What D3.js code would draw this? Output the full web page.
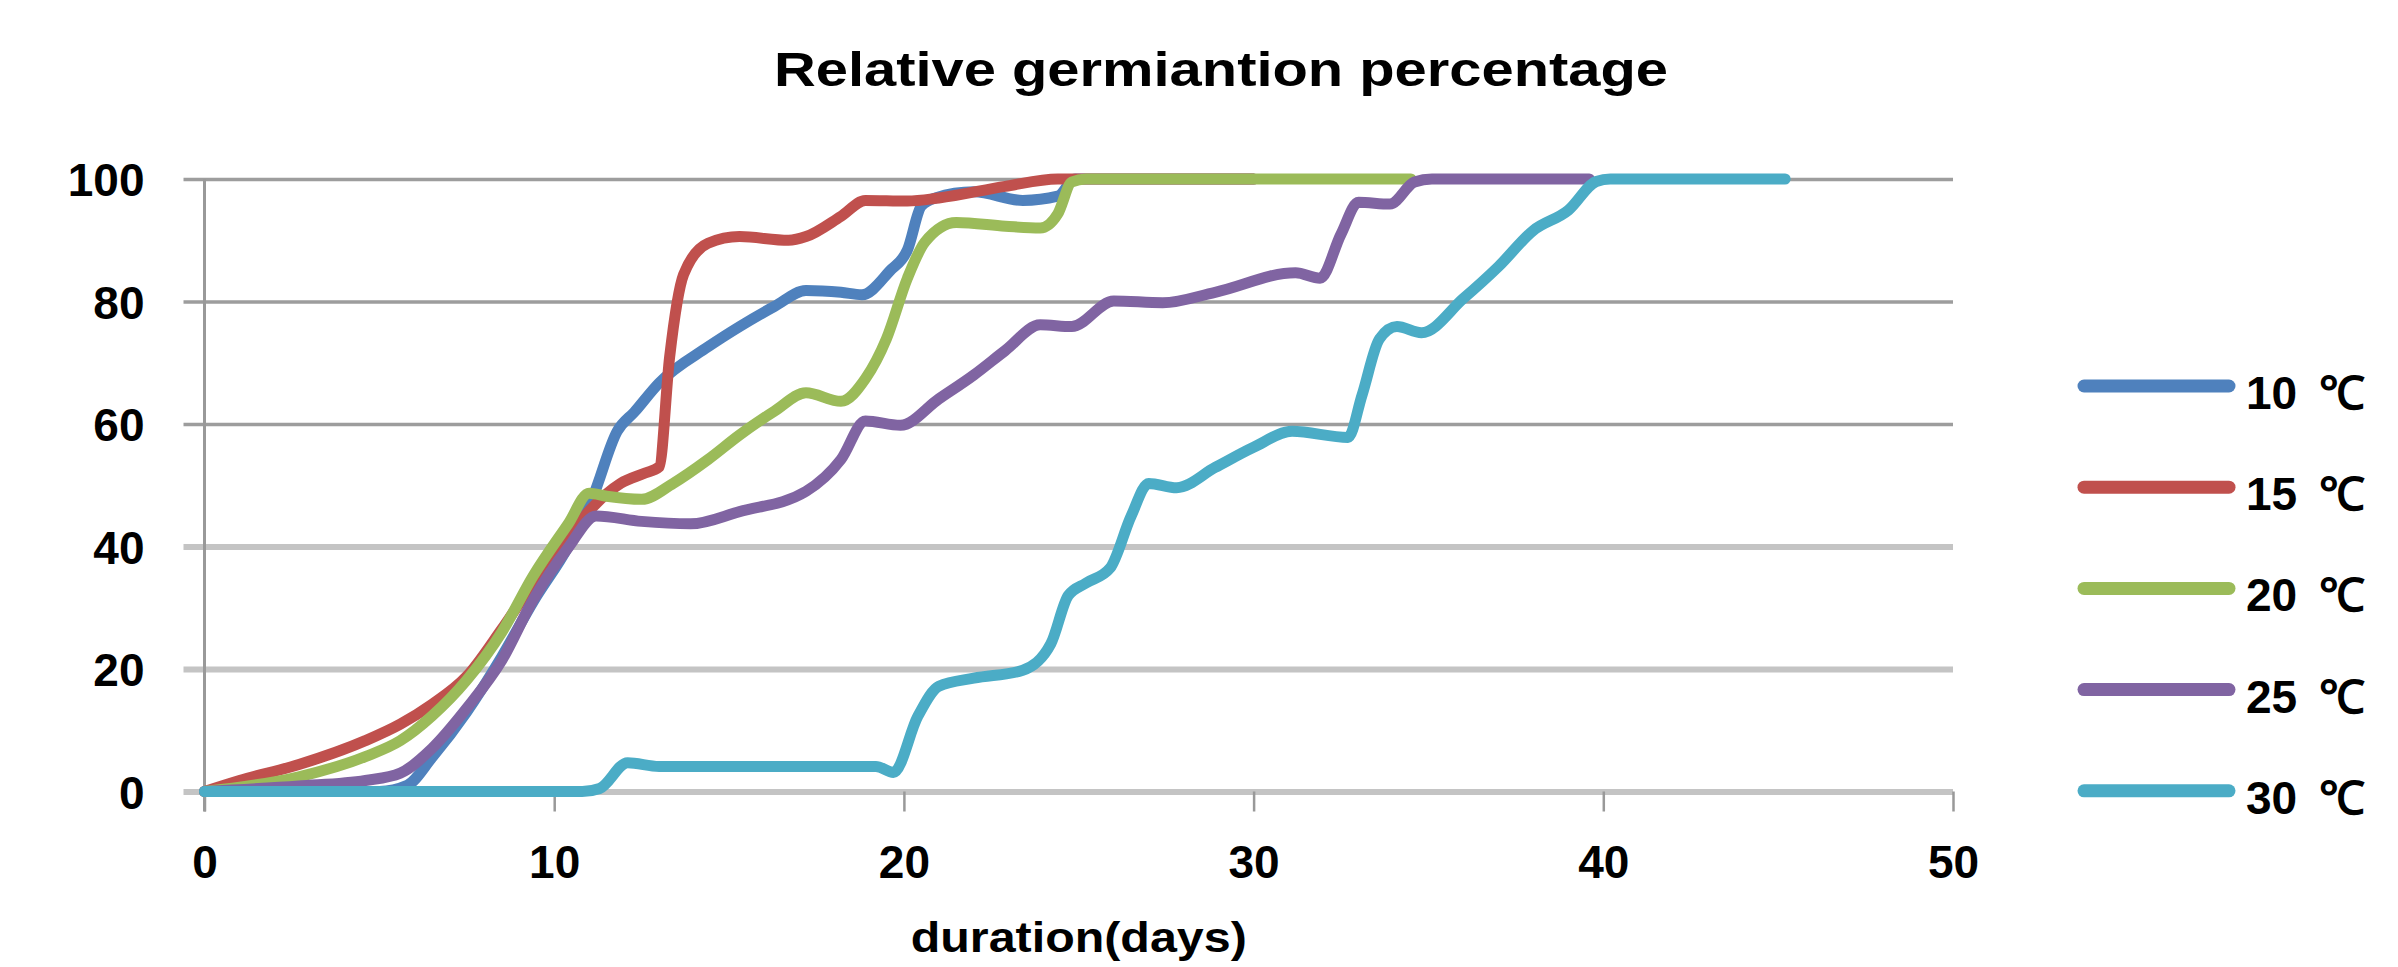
<!DOCTYPE html>
<html>
<head>
<meta charset="utf-8">
<script src="https://cdn.jsdelivr.net/npm/d3@7"></script>
<style>
    body { margin: 0; background: #fff; }
    svg { display: block; }
</style>
</head>
<body>
<div id="container"></div>
<script>
'use strict';
// chart data
var chartTitle = 'Relative germiantion percentage';
var xTitle = 'duration(days)';
var temps = ['10', '15', '20', '25', '30'];
var unit = '℃';
var xTicks = [0, 10, 20, 30, 40, 50];
var yTicks = [0, 20, 40, 60, 80, 100];

// [day, percentage]
var germ10 = [[0,0],[2,0],[5,0],[5.8,1],[6.5,5.5],[7.5,13],[8.5,22],[9.4,31],[10.4,40],[11.1,48],[11.8,58.8],
    [12.3,62],[13,66.7],[14.4,72.6],[15.3,75.9],[16.3,79.2],[17.2,81.8],[18.2,81.5],[18.8,81.1],[19.6,85],
    [20.1,88.4],[20.5,95.6],[20.9,96.9],[22,97.9],[23.4,96.5],[24.4,97.2],[24.9,100],[30,100]];
var germ15 = [[0,0],[1,1.8],[2.7,4.4],[4.6,8.3],[5.6,11],[6.5,14.2],[7.5,18.8],[8.5,26.5],[9.4,34],[10.4,41.5],
    [11,45.8],[11.9,50.3],[12.6,52],[13,53],[13.3,70.9],[13.7,84.4],[14.4,89.5],[15.3,90.6],[16.7,90],[17.2,90.6],
    [18.2,93.9],[18.9,96.5],[20.1,96.4],[21,96.9],[22.9,98.8],[24.4,100],[30,100]];
var germ20 = [[0,0],[2.7,2.4],[4.6,5.7],[5.6,8.3],[6.5,12.3],[7.5,18.2],[8.5,26],[9.4,35.2],[10.4,43.7],[11,48.7],
    [11.5,48.2],[12.5,47.7],[13.4,50.3],[14.4,54.2],[15.3,58.2],[16.3,62.1],[17.2,65.1],[18.2,63.7],[18.9,67.4],
    [19.5,73.9],[20.1,83.8],[20.6,89.7],[21.5,92.9],[22.9,92.3],[23.9,92],[24.4,94.3],[24.8,99.5],[25.2,100],[34.5,100]];
var germ25 = [[0,0],[2.7,0.9],[4.6,1.8],[5.6,3],[6.5,7],[7.5,13.6],[8.5,21.4],[9.4,31.3],[10.4,39.8],[11.2,45],
    [12.5,44.1],[13.9,43.7],[15.3,45.7],[17.2,49],[18.2,54.2],[18.9,60.5],[19.9,59.8],[21,64.1],[22,68],[22.9,72],
    [23.9,76.2],[24.8,75.9],[26,80.1],[27.4,79.8],[28.9,81.5],[31.2,84.7],[31.9,83.8],[32.5,91],[33,96.2],
    [33.9,95.9],[34.6,99.5],[35.1,100],[39.6,100]];
var germ30 = [[0,0],[10.8,0],[11.3,0.5],[12.1,4.7],[13,4.1],[19.2,4.1],[19.7,3.1],[20.4,12.3],[21,17.2],[22,18.5],
    [23.4,19.8],[24.2,24.1],[24.7,32],[25.2,34],[25.9,36.5],[26.5,45],[27,50.3],[27.8,49.6],[28.9,52.9],[30,56.2],
    [31.1,58.8],[32.7,57.8],[33.1,64.7],[33.6,73.9],[34.1,75.9],[34.8,74.9],[36,80.5],[37,85.7],[38,91.6],
    [39,94.9],[39.8,99.6],[40.2,100],[45.2,100]];

(function() {
    var colors = ['#4f81bd', '#c0504d', '#9bbb59', '#8064a2', '#4bacc6'];
    var series = [germ10, germ15, germ20, germ25, germ30].map(function(values, i) {
        return {label: temps[i], values: values, color: colors[i]};
    });

    var width = 2398, height = 967;
    var margin = {top: 179, right: 445, bottom: 175.5, left: 204.5};
    var font = "'Liberation Sans', Arial, sans-serif";

    var svg = d3.select('#container').append('svg')
        .attr('width', width)
        .attr('height', height)
        .style('background', '#fff');

    var x = d3.scaleLinear().domain([0, 50]).range([margin.left, width - margin.right]);
    var y = d3.scaleLinear().domain([0, 100]).range([height - margin.bottom, margin.top]);
    var plotW = x(50) - x(0);

    // y axis with gridlines
    var yAxis = svg.append('g')
        .attr('class', 'yAxis')
        .attr('transform', 'translate(' + x(0) + ',0)')
        .call(d3.axisLeft(y).tickValues(yTicks).tickSize(0).tickFormat(d3.format('d')));
    yAxis.select('.domain').remove();
    yAxis.selectAll('.tick line')
        .attr('x1', -21)
        .attr('x2', plotW)
        .attr('stroke', function(d) { return d >= 60 ? '#9d9d9d' : '#c4c4c4'; })
        .attr('stroke-width', function(d) { return d >= 60 ? 3.5 : 6; });
    yAxis.selectAll('.tick text')
        .attr('x', -60)
        .attr('dy', '0.36em')
        .style('font-family', font)
        .style('font-weight', 'bold')
        .style('font-size', '46px')
        .attr('fill', '#000');

    // x axis
    var xAxis = svg.append('g')
        .attr('class', 'xAxis')
        .attr('transform', 'translate(0,' + y(0) + ')')
        .call(d3.axisBottom(x).tickValues(xTicks).tickSize(20).tickFormat(d3.format('d')));
    xAxis.select('.domain').remove();
    xAxis.selectAll('.tick line')
        .attr('stroke', '#999')
        .attr('stroke-width', 2.5);
    xAxis.selectAll('.tick text')
        .attr('y', 54)
        .attr('dy', '0.71em')
        .style('font-family', font)
        .style('font-weight', 'bold')
        .style('font-size', '46px')
        .attr('fill', '#000');

    // vertical axis line
    svg.append('line')
        .attr('x1', x(0)).attr('x2', x(0))
        .attr('y1', y(100)).attr('y2', y(0) + 20)
        .attr('stroke', '#999')
        .attr('stroke-width', 3);

    // lines, smoothed like the spreadsheet
    var line = d3.line()
        .x(function(d) { return x(d[0]); })
        .y(function(d) { return y(d[1]); })
        .curve(d3.curveMonotoneX);

    svg.append('g').selectAll('path')
        .data(series)
        .enter()
        .append('path')
        .attr('d', function(d) { return line(d.values); })
        .attr('fill', 'none')
        .attr('stroke', function(d) { return d.color; })
        .attr('stroke-width', 11)
        .attr('stroke-linecap', 'round')
        .attr('stroke-linejoin', 'round');

    // legend
    var legend = svg.append('g').selectAll('g')
        .data(series)
        .enter()
        .append('g')
        .attr('transform', function(d, i) { return 'translate(2084,' + (386 + i * 101.2) + ')'; });
    legend.append('line')
        .attr('x1', 0).attr('x2', 145)
        .attr('stroke', function(d) { return d.color; })
        .attr('stroke-width', 13)
        .attr('stroke-linecap', 'round');
    var legendText = legend.append('text')
        .attr('x', 162)
        .attr('y', 23)
        .style('font-family', font)
        .style('font-weight', 'bold')
        .style('font-size', '46px');
    legendText.append('tspan')
        .text(function(d) { return d.label; });
    legendText.append('tspan')
        .attr('dx', 22)
        .text(unit);

    // titles
    svg.append('text')
        .attr('x', 1221)
        .attr('y', 86)
        .attr('text-anchor', 'middle')
        .attr('textLength', 894)
        .attr('lengthAdjust', 'spacingAndGlyphs')
        .style('font-family', font)
        .style('font-weight', 'bold')
        .style('font-size', '48px')
        .text(chartTitle);

    svg.append('text')
        .attr('x', (x(0) + x(50)) / 2)
        .attr('y', 952)
        .attr('text-anchor', 'middle')
        .attr('textLength', 336)
        .attr('lengthAdjust', 'spacingAndGlyphs')
        .style('font-family', font)
        .style('font-weight', 'bold')
        .style('font-size', '42px')
        .text(xTitle);
})();
</script>
</body>
</html>
